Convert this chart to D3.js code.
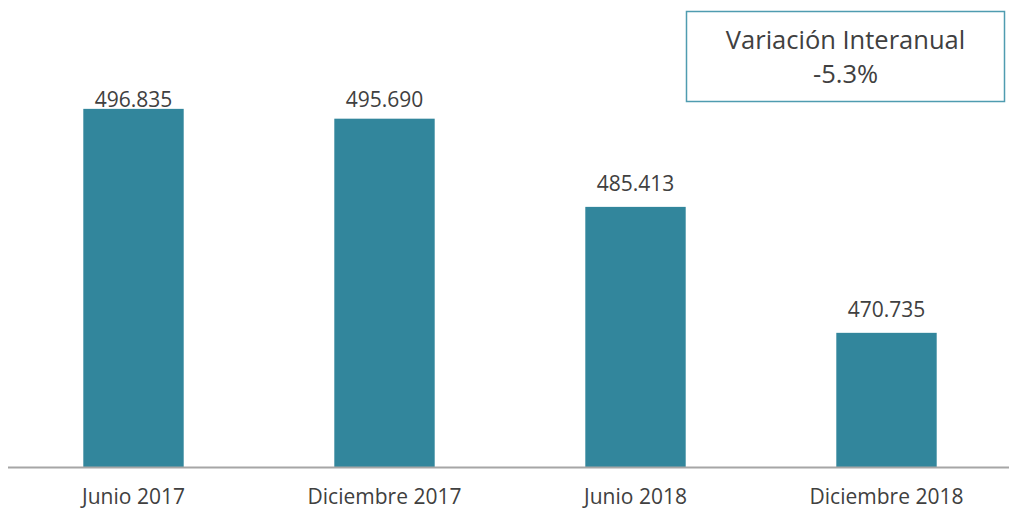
<!DOCTYPE html>
<html>
<head>
<meta charset="utf-8">
<script src="https://cdn.jsdelivr.net/npm/d3@7"></script>
<style>
  body { margin: 0; background: #fff; }
  text { font-family: "Open Sans", Lato, sans-serif; fill: #404040; }
</style>
</head>
<body>
<div id="chart"></div>
<script>
var width = 1009;
var height = 511;

// data
var periods = ["Junio 2017", "Diciembre 2017", "Junio 2018", "Diciembre 2018"];
var values = [496835, 495690, 485413, 470735];
var valueLabels = ["496.835", "495.690", "485.413", "470.735"];
var boxTitle = "Variación Interanual";
var boxValue = "-5.3%";

var svg = d3.select("#chart").append("svg")
    .attr("width", width)
    .attr("height", height);

var x = d3.scaleBand()
    .domain(periods)
    .range([8, 1012])
    .paddingInner(0.6)
    .paddingOuter(0.3);

// axis doesn't start at zero in the original
var y = d3.scaleLinear()
    .domain([455100, 500000])
    .range([467, 81.7]);

var bars = svg.append("g")
    .selectAll("rect")
    .data(periods)
    .join("rect")
    .attr("x", d => x(d))
    .attr("width", x.bandwidth())
    .attr("y", (d, i) => y(values[i]))
    .attr("height", (d, i) => y.range()[0] - y(values[i]))
    .attr("fill", "#32869c");

// labels sit above the bar, but not higher than the plot top
svg.append("g")
    .attr("font-size", 21)
    .attr("text-anchor", "middle")
    .selectAll("text")
    .data(periods)
    .join("text")
    .attr("x", d => x(d) + x.bandwidth() / 2)
    .attr("y", (d, i) => Math.max(y(values[i]) - 16, 106.5))
    .text((d, i) => valueLabels[i]);

// baseline + category labels
var xAxis = svg.append("g")
    .attr("transform", "translate(0,467)")
    .call(d3.axisBottom(x).tickSize(0).tickPadding(22));
xAxis.select(".domain")
    .attr("d", "M8,0.5H1009")
    .attr("stroke", "#a6a6a6")
    .attr("stroke-width", 2);
xAxis.selectAll("text")
    .attr("font-size", 21)
    .attr("font-family", "'Open Sans', Lato, sans-serif")
    .attr("fill", "#404040");

// annotation box
var box = svg.append("g");
box.append("rect")
    .attr("x", 686.5)
    .attr("y", 11.5)
    .attr("width", 318)
    .attr("height", 90)
    .attr("fill", "#fff")
    .attr("stroke", "#4f9cb0")
    .attr("stroke-width", 1.5);
box.append("text")
    .attr("x", 845.5)
    .attr("y", 49)
    .attr("text-anchor", "middle")
    .attr("font-size", 25.5)
    .text(boxTitle);
box.append("text")
    .attr("x", 845.5)
    .attr("y", 83)
    .attr("text-anchor", "middle")
    .attr("font-size", 25.5)
    .text(boxValue);
</script>
</body>
</html>
